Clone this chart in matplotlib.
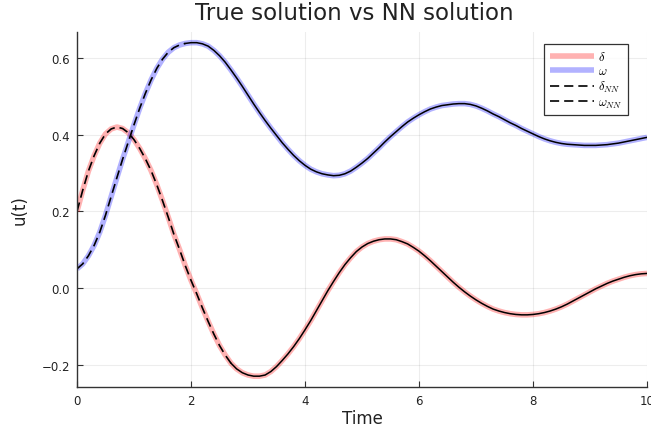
import matplotlib
matplotlib.use("Agg")
import matplotlib.pyplot as plt

t = [round(0.1 * i, 1) for i in range(101)]

delta = [0.200, 0.255, 0.305, 0.345, 0.378, 0.402, 0.415, 0.420, 0.416, 0.405,
         0.387, 0.364, 0.337, 0.306, 0.269, 0.228, 0.185, 0.140, 0.100, 0.058,
         0.020, -0.015, -0.052, -0.087, -0.120, -0.150, -0.175, -0.196, -0.211, -0.221,
         -0.227, -0.230, -0.230, -0.227, -0.218, -0.205, -0.189, -0.172, -0.153, -0.132,
         -0.109, -0.085, -0.059, -0.033, -0.007, 0.017, 0.040, 0.061, 0.079, 0.095,
         0.107, 0.116, 0.122, 0.126, 0.128, 0.128, 0.126, 0.121, 0.115, 0.106,
         0.096, 0.084, 0.071, 0.057, 0.043, 0.029, 0.015, 0.002, -0.010, -0.021,
         -0.031, -0.040, -0.048, -0.055, -0.060, -0.064, -0.067, -0.069, -0.070, -0.070,
         -0.069, -0.067, -0.064, -0.060, -0.055, -0.049, -0.042, -0.034, -0.026, -0.018,
         -0.010, -0.002, 0.005, 0.012, 0.018, 0.023, 0.028, 0.032, 0.035, 0.037,
         0.038]

omega = [0.050, 0.063, 0.084, 0.111, 0.146, 0.190, 0.239, 0.288, 0.336, 0.381,
         0.426, 0.469, 0.508, 0.543, 0.573, 0.597, 0.615, 0.627, 0.634, 0.638,
         0.640, 0.640, 0.637, 0.631, 0.620, 0.606, 0.589, 0.569, 0.548, 0.526,
         0.503, 0.480, 0.458, 0.437, 0.417, 0.398, 0.379, 0.362, 0.346, 0.332,
         0.320, 0.310, 0.303, 0.298, 0.295, 0.293, 0.294, 0.298, 0.305, 0.315,
         0.326, 0.338, 0.352, 0.366, 0.381, 0.395, 0.408, 0.421, 0.433, 0.443,
         0.452, 0.460, 0.467, 0.472, 0.476, 0.478, 0.480, 0.481, 0.481, 0.479,
         0.475, 0.469, 0.462, 0.454, 0.447, 0.439, 0.431, 0.424, 0.416, 0.409,
         0.402, 0.395, 0.389, 0.384, 0.380, 0.377, 0.375, 0.374, 0.373, 0.372,
         0.372, 0.372, 0.373, 0.374, 0.376, 0.378, 0.381, 0.384, 0.387, 0.390,
         0.393]

# NN predictions (visually identical to the true solution)
delta_nn = list(delta)
omega_nn = list(omega)

xticks = [0, 2, 4, 6, 8, 10]
yticks = [-0.2, 0.0, 0.2, 0.4, 0.6]

plt.rcParams['mathtext.fontset'] = 'cm'

fig = plt.figure(figsize=(6.51, 4.35), dpi=100)
ax = fig.add_axes([0.1183, 0.1087, 0.8756, 0.8147])

ax.plot(t, delta, color='red', alpha=0.3, lw=4, label=r'$\delta$', solid_capstyle='butt')
ax.plot(t, omega, color='blue', alpha=0.3, lw=4, label=r'$\omega$', solid_capstyle='butt')

dash = (0, (5.5, 3))
nd = 28  # dashed look where the curve is steep, dense dashes look solid later
nw = 20
ax.plot(t[:nd], delta_nn[:nd], color='black', ls=dash, lw=1.2, label=r'$\delta_{NN}$')
ax.plot(t[nd - 1:], delta_nn[nd - 1:], color='black', ls='-', lw=1.1)
ax.plot(t[:nw], omega_nn[:nw], color='black', ls=dash, lw=1.2, label=r'$\omega_{NN}$')
ax.plot(t[nw - 1:], omega_nn[nw - 1:], color='black', ls='-', lw=1.1)

ax.set_xlim(0, 10)
ax.set_ylim(-0.2575, 0.667)
ax.set_xticks(xticks)
ax.set_yticks(yticks)
ax.set_xticklabels([str(v) for v in xticks])
ax.set_yticklabels(['\u22120.2', '0.0', '0.2', '0.4', '0.6'])
ax.tick_params(direction='in', length=4, width=0.8, labelsize=8.5, colors='#333333',
               labelcolor='#222222', pad=5)
ax.grid(True, color='black', alpha=0.07, lw=0.8)
for s in ['top', 'right']:
    ax.spines[s].set_visible(False)
for s in ['left', 'bottom']:
    ax.spines[s].set_color('#333333')
    ax.spines[s].set_linewidth(1.0)

ax.set_xlabel('Time', fontsize=12, labelpad=2, color='#222222')
ax.set_ylabel('u(t)', fontsize=12, labelpad=9, color='#222222')
fig.text(354 / 651, 1 - 14 / 435, 'True solution vs NN solution', fontsize=16.5,
         ha='center', va='center', color='#222222')

leg = ax.legend(loc='upper right', bbox_to_anchor=(0.966, 0.966), fontsize=9,
                frameon=True, fancybox=False, edgecolor='black', handlelength=3.5,
                handletextpad=0.3, labelspacing=0.12, borderpad=0.45, borderaxespad=0)
leg.get_frame().set_linewidth(0.9)

fig.savefig('out.png', dpi=100)
